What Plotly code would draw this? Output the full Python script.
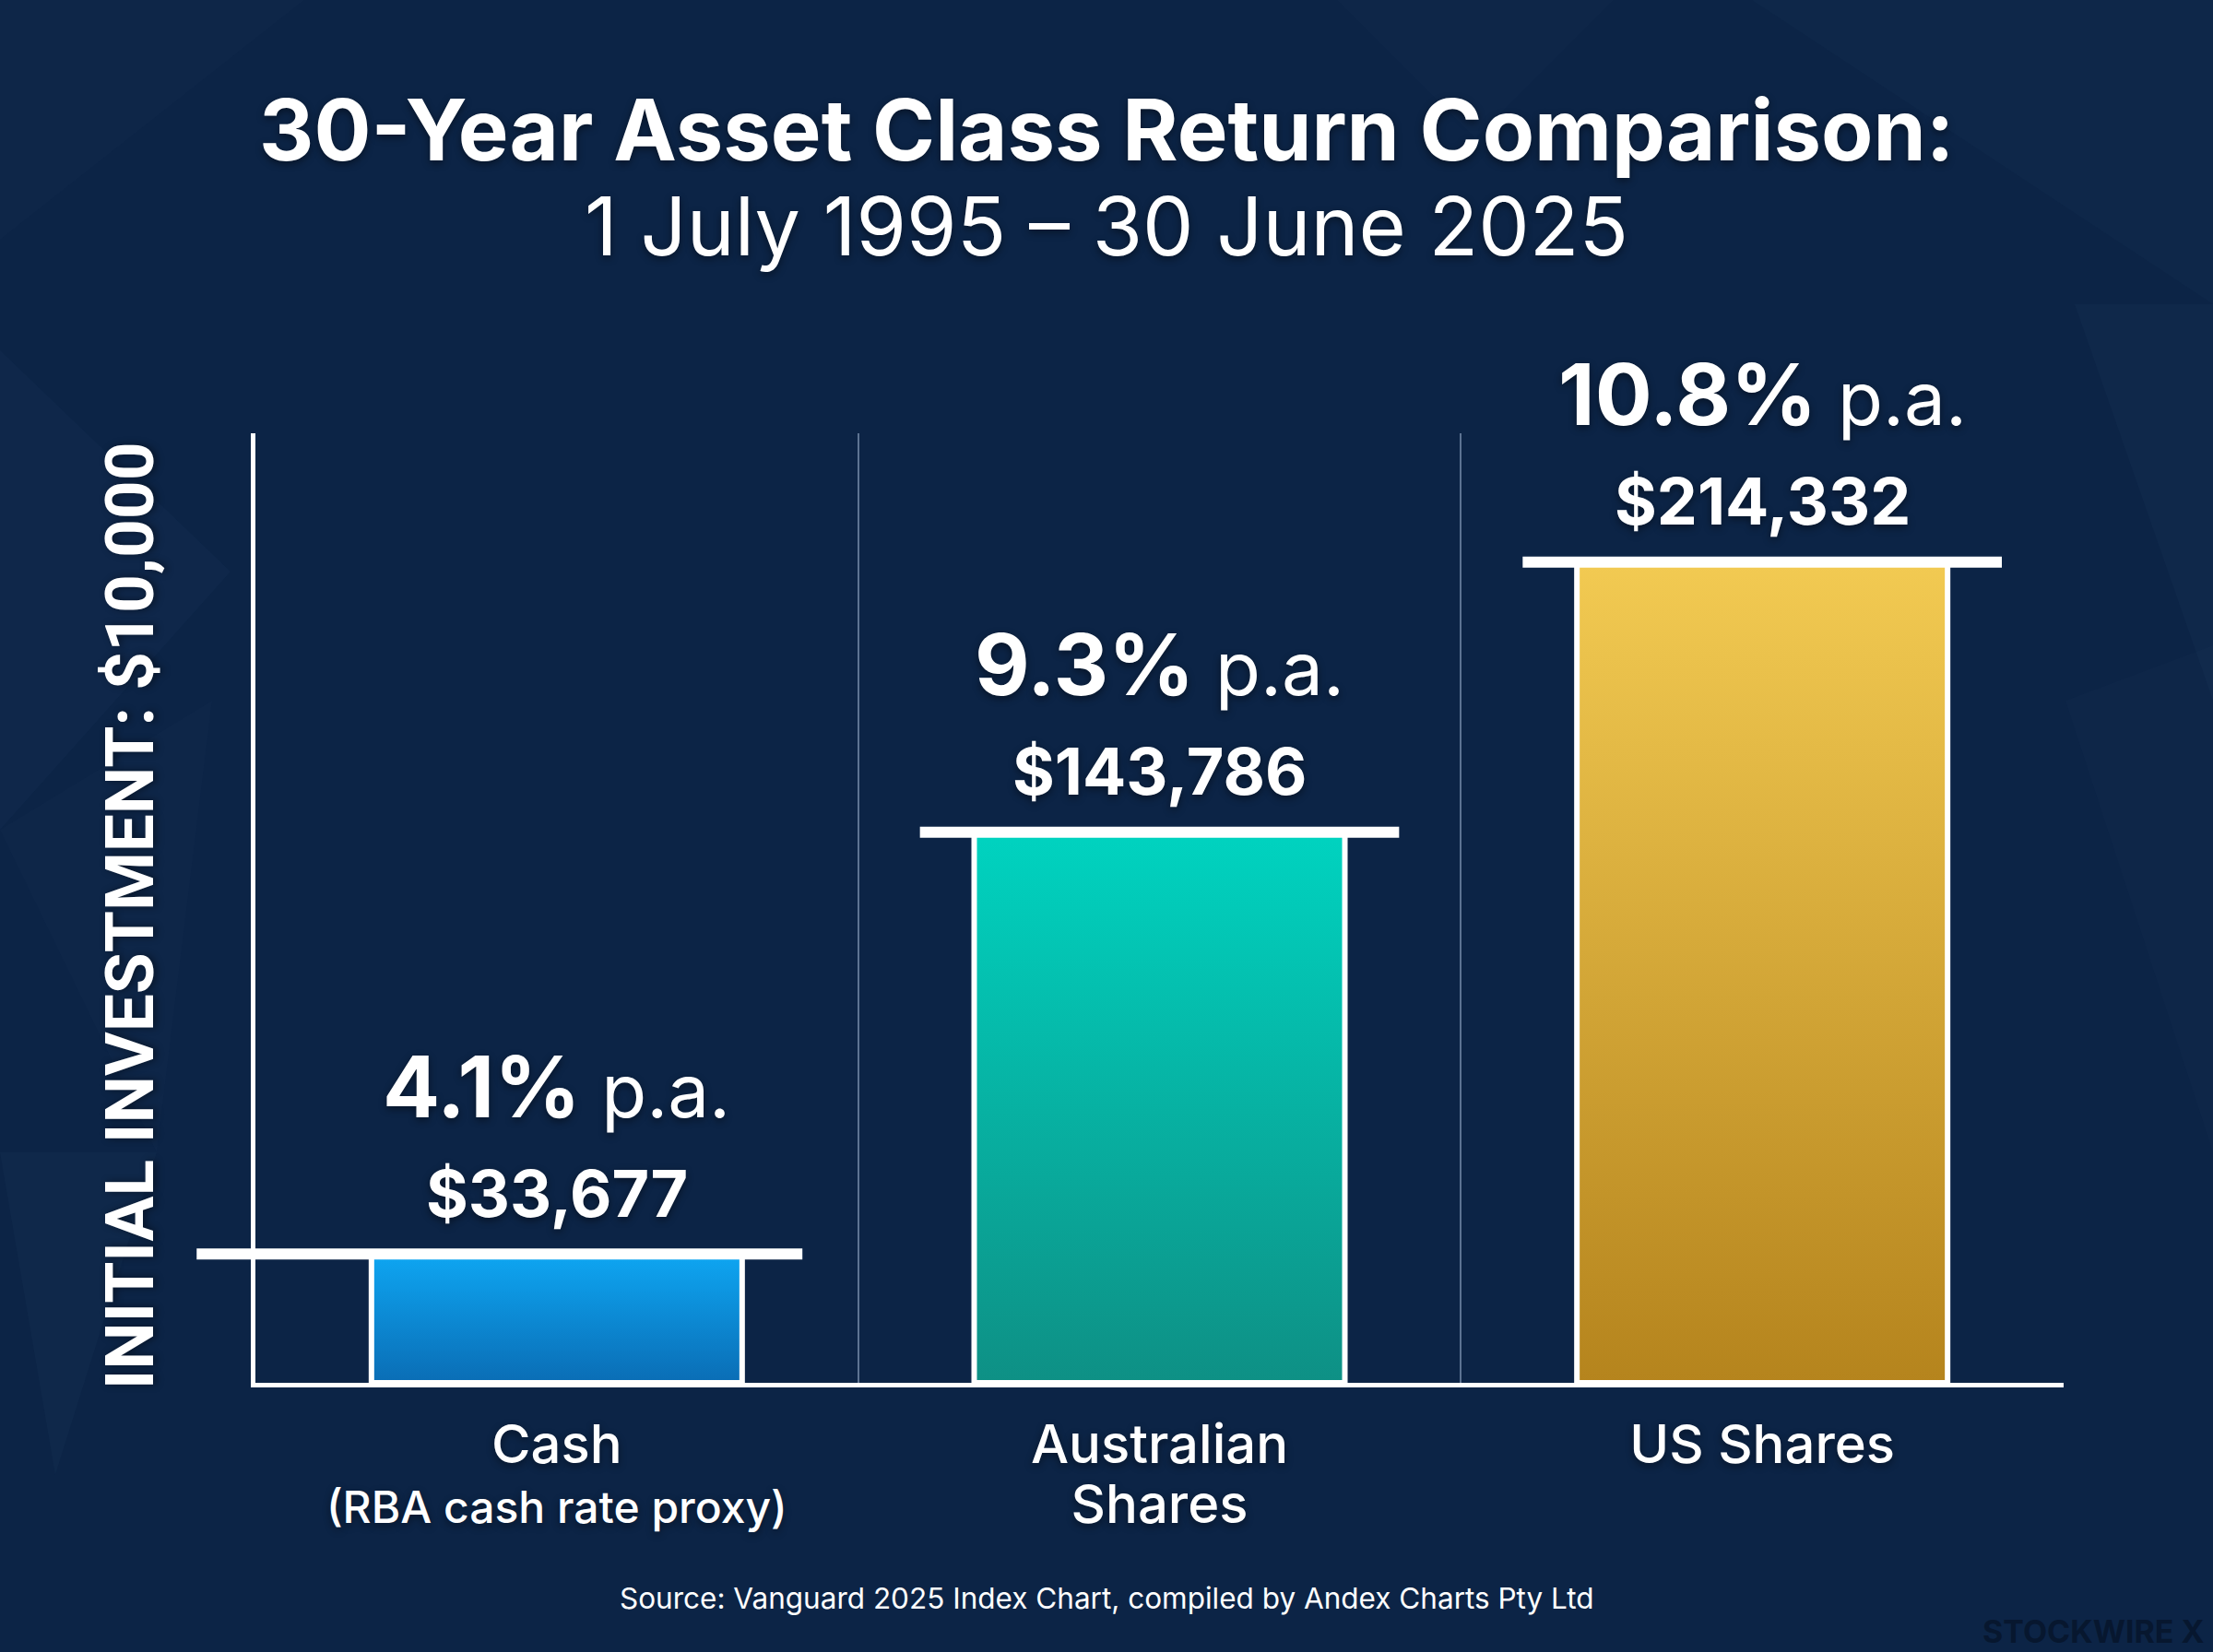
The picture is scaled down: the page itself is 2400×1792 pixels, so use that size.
import plotly.graph_objects as go

# ---------------- data ----------------
categories = ["Cash", "Australian Shares", "US Shares"]
tick_labels = [
    "<span style='font-size:58px'>Cash</span><br><span style='font-size:48px'>(RBA cash rate proxy)</span>",
    "<span style='font-size:58px'>Australian</span><br><span style='font-size:58px'>Shares</span>",
    "<span style='font-size:58px'>US Shares</span>",
]
final_values = [33677, 143786, 214332]
annual_returns = ["4.1%", "9.3%", "10.8%"]
initial_investment = 10000
title_text = "30-Year Asset Class Return Comparison:"
subtitle_text = "1 July 1995 – 30 June 2025"
source_text = "Source: Vanguard 2025 Index Chart, compiled by Andex Charts Pty Ltd"
watermark_text = "STOCKWIRE X"

# ---------------- style ----------------
W, H = 2400, 1792
M_L, M_R, M_T, M_B = 277, 162, 470, 292
X_RANGE = [-0.5, 2.5]
Y_RANGE = [0, 248000]
BAR_W = 0.615
cap_left = [0.29, 0.09, 0.09]
cap_right = [0.10, 0.09, 0.09]
bar_top_colors = ["#0ea6f2", "#00d3c0", "#f2ca52"]
bar_bottom_colors = ["#0a6db5", "#0e9085", "#b5841d"]
BG = "#0c2446"
FONT = "Inter"
SHADOW = "0px 3px 8px rgba(0,0,0,0.45)"

plot_w = W - M_L - M_R
plot_h = H - M_T - M_B


def xdom(x):
    return (x - X_RANGE[0]) / (X_RANGE[1] - X_RANGE[0])


def px_to_paper_x(px):
    return (px - M_L) / plot_w


def px_to_paper_y(py):
    return (H - M_B - py) / plot_h


fig = go.Figure()

# faint low-poly background texture (decorative, page pixel coordinates)
bg_polys = [
    [(0, 380), (250, 620), (0, 900)],
    [(0, 900), (230, 760), (170, 1250)],
    [(0, 1250), (170, 1250), (60, 1600)],
    [(0, 0), (330, 0), (0, 260)],
    [(1900, 0), (2400, 0), (2400, 330)],
    [(2250, 330), (2400, 330), (2400, 760)],
    [(2240, 760), (2400, 700), (2400, 1250)],
    [(1450, 0), (1750, 0), (1600, 150)],
]
bg_alphas = [0.03, 0.02, 0.028, 0.02, 0.025, 0.028, 0.02, 0.018]
for poly, a in zip(bg_polys, bg_alphas):
    path = "M " + " L ".join(f"{px_to_paper_x(px):.4f},{px_to_paper_y(py):.4f}" for px, py in poly) + " Z"
    fig.add_shape(type="path", xref="paper", yref="paper", path=path,
                  fillcolor=f"rgba(140,170,220,{a})", line=dict(width=0), layer="below")

for i, v in enumerate(final_values):
    xl, xr = i - BAR_W / 2, i + BAR_W / 2
    fig.add_trace(go.Scatter(
        x=[xl, xl, xr, xr, xl],
        y=[0, v, v, 0, 0],
        mode="lines",
        fill="toself",
        fillgradient=dict(type="vertical",
                          colorscale=[[0, bar_bottom_colors[i]], [1, bar_top_colors[i]]]),
        line=dict(color="white", width=6),
        name=categories[i],
        showlegend=False,
        hoverinfo="skip",
    ))
    # cap line on top of the bar
    fig.add_shape(type="line", xref="x domain", yref="y",
                  x0=xdom(xl - cap_left[i]), x1=xdom(xr + cap_right[i]),
                  y0=v, y1=v, line=dict(color="white", width=12), layer="above")
    # value label
    fig.add_annotation(x=i, y=v, xref="x", yref="y", yshift=66, yanchor="middle",
                       text=f"<b>${v:,}</b>", showarrow=False,
                       font=dict(family=FONT, size=70, color="white", shadow=SHADOW))
    # return label
    fig.add_annotation(x=i, y=v, xref="x", yref="y", yshift=182, yanchor="middle",
                       text=f"<b>{annual_returns[i]}</b><span style='font-size:80px'> p.a.</span>",
                       showarrow=False,
                       font=dict(family=FONT, size=92, color="white", shadow=SHADOW))

# titles
fig.add_annotation(xref="paper", yref="paper", x=px_to_paper_x(1200), y=px_to_paper_y(141),
                   text=f"<b>{title_text}</b>", showarrow=False, xanchor="center", yanchor="middle",
                   font=dict(family=FONT, size=92, color="white", shadow=SHADOW))
fig.add_annotation(xref="paper", yref="paper", x=px_to_paper_x(1200), y=px_to_paper_y(245),
                   text=subtitle_text, showarrow=False, xanchor="center", yanchor="middle",
                   font=dict(family=FONT, size=88, color="white", shadow=SHADOW))
# y-axis title
fig.add_annotation(xref="paper", yref="paper", x=px_to_paper_x(141), y=px_to_paper_y(993),
                   text=f"<b>INITIAL INVESTMENT: ${initial_investment:,}</b>", showarrow=False,
                   textangle=-90, xanchor="center", yanchor="middle",
                   font=dict(family="Roboto", size=73, color="white", shadow=SHADOW))
# source
fig.add_annotation(xref="paper", yref="paper", x=px_to_paper_x(1200), y=px_to_paper_y(1733),
                   text=source_text, showarrow=False, xanchor="center", yanchor="middle",
                   font=dict(family=FONT, size=31.5, color="white"))
# watermark
fig.add_annotation(xref="paper", yref="paper", x=px_to_paper_x(2270), y=px_to_paper_y(1769),
                   text=f"<b>{watermark_text}</b>", showarrow=False, xanchor="center", yanchor="middle",
                   font=dict(family=FONT, size=34, color="#07172f"))

fig.update_layout(
    width=W, height=H,
    margin=dict(l=M_L, r=M_R, t=M_T, b=M_B, pad=0),
    paper_bgcolor=BG, plot_bgcolor="rgba(0,0,0,0)",
    showlegend=False,
    xaxis=dict(
        range=X_RANGE, tickmode="array", tickvals=[0, 1, 2], ticktext=tick_labels,
        tickfont=dict(family=FONT, size=50, color="white", weight=500, shadow=SHADOW),
        showline=True, linecolor="white", linewidth=5,
        showgrid=False, zeroline=False, ticks="", ticklabelstandoff=22,
        minor=dict(tickmode="linear", tick0=0.5, dtick=1, showgrid=True,
                   gridcolor="rgba(160,180,210,0.55)", gridwidth=2, ticks=""),
    ),
    yaxis=dict(
        range=Y_RANGE, showline=True, linecolor="white", linewidth=5,
        showticklabels=False, showgrid=False, zeroline=False, ticks="",
    ),
)

fig.write_html("out.html")
